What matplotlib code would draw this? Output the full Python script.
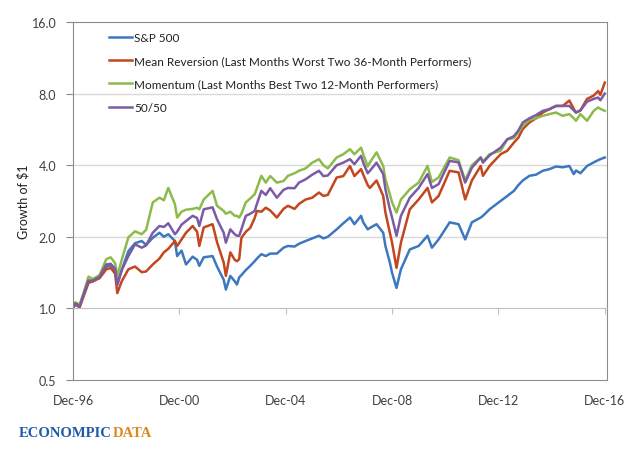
import numpy as np
import pandas as pd
import matplotlib
matplotlib.use("Agg")
import matplotlib.pyplot as plt
from matplotlib.ticker import FixedLocator, NullLocator

plt.rcParams['font.family'] = ['Lato', 'DejaVu Sans']

# months after Dec-96 and growth of $1 for each strategy
months = [0, 1, 3, 5, 7, 9, 12, 15, 17, 19, 20, 22, 25, 28, 31, 33, 36, 39, 41, 43,
          46, 47, 49, 51, 54, 56, 57, 59, 63, 65, 68, 69, 71, 73, 74,
          75, 76, 78, 80, 82, 83, 85, 87, 89, 92, 95, 97, 100, 102, 105, 108, 111, 113, 115,
          119, 122, 125, 127, 130, 131, 133, 134, 137,
          140, 141, 143, 144, 146, 148, 152, 156, 160, 162, 165, 170, 174, 177, 180,
          184, 185, 188, 193, 196, 199, 201, 203, 206, 209, 212, 215, 218, 221, 224, 226, 227, 229,
          232, 235, 237, 238, 240]

sp500 = [1.00, 1.05, 1.02, 1.15, 1.30, 1.30, 1.36, 1.50, 1.52, 1.45, 1.26, 1.45, 1.74, 1.88, 1.92, 1.85, 1.98, 2.08, 2.00, 2.05,
         1.92, 1.66, 1.75, 1.53, 1.65, 1.60, 1.51, 1.64, 1.66, 1.50, 1.32, 1.20, 1.37, 1.30, 1.26,
         1.35, 1.38, 1.45, 1.51, 1.58, 1.62, 1.69, 1.66, 1.70, 1.70, 1.80, 1.83, 1.82, 1.87, 1.92, 1.97, 2.02, 1.97, 2.00,
         2.15, 2.28, 2.41, 2.26, 2.45, 2.30, 2.15, 2.18, 2.26,
         2.08, 1.83, 1.56, 1.41, 1.22, 1.46, 1.77, 1.83, 2.02, 1.80, 1.95, 2.30, 2.26, 1.95, 2.30,
         2.41, 2.45, 2.61, 2.83, 2.97, 3.12, 3.30, 3.45, 3.61, 3.65, 3.79, 3.85, 3.95, 3.92, 3.97, 3.67, 3.80, 3.70,
         3.97, 4.11, 4.20, 4.24, 4.31]

mean_rev = [1.00, 1.04, 1.01, 1.14, 1.28, 1.30, 1.34, 1.46, 1.48, 1.40, 1.16, 1.30, 1.46, 1.50, 1.42, 1.43, 1.53, 1.62, 1.72, 1.78,
            1.92, 1.83, 1.95, 2.08, 2.22, 2.10, 1.83, 2.19, 2.26, 1.90, 1.56, 1.37, 1.72, 1.60, 1.58,
            1.61, 1.98, 2.10, 2.18, 2.40, 2.57, 2.55, 2.65, 2.58, 2.41, 2.62, 2.70, 2.62, 2.75, 2.87, 2.92, 3.07, 2.97, 3.00,
            3.55, 3.60, 3.97, 3.60, 3.85, 3.65, 3.30, 3.21, 3.45,
            2.97, 2.53, 2.08, 1.89, 1.48, 1.89, 2.61, 2.87, 3.21, 2.79, 2.97, 3.79, 3.73, 2.87, 3.45,
            3.97, 3.61, 3.97, 4.45, 4.60, 4.98, 5.22, 5.68, 6.05, 6.30, 6.66, 6.88, 7.10, 7.10, 7.48, 6.90, 6.66, 6.80,
            7.60, 7.85, 8.20, 7.90, 8.90]

momentum = [1.00, 1.06, 1.04, 1.18, 1.36, 1.33, 1.38, 1.61, 1.64, 1.55, 1.37, 1.60, 1.99, 2.11, 2.05, 2.14, 2.79, 2.92, 2.85, 3.21,
            2.74, 2.41, 2.55, 2.60, 2.62, 2.65, 2.61, 2.87, 3.12, 2.70, 2.57, 2.50, 2.55, 2.45, 2.45,
            2.41, 2.50, 2.79, 2.90, 3.02, 3.20, 3.61, 3.38, 3.60, 3.38, 3.43, 3.61, 3.70, 3.79, 3.88, 4.10, 4.24, 4.00, 3.88,
            4.31, 4.45, 4.67, 4.45, 4.74, 4.45, 3.95, 4.11, 4.53,
            3.97, 3.49, 3.02, 2.79, 2.53, 2.87, 3.17, 3.38, 3.97, 3.40, 3.55, 4.31, 4.20, 3.45, 4.00,
            4.31, 4.15, 4.45, 4.60, 5.14, 5.20, 5.50, 5.85, 6.20, 6.30, 6.45, 6.56, 6.66, 6.45, 6.56, 6.30, 6.15, 6.56,
            6.15, 6.77, 7.00, 6.90, 6.77]

fifty = [1.00, 1.05, 1.02, 1.16, 1.31, 1.31, 1.36, 1.53, 1.54, 1.47, 1.26, 1.45, 1.66, 1.86, 1.80, 1.84, 2.08, 2.22, 2.20, 2.28,
         2.05, 2.10, 2.25, 2.33, 2.45, 2.40, 2.22, 2.61, 2.66, 2.37, 2.08, 1.89, 2.15, 2.05, 2.02,
         2.02, 2.15, 2.45, 2.50, 2.57, 2.75, 3.12, 3.00, 3.20, 2.92, 3.15, 3.21, 3.20, 3.38, 3.49, 3.65, 3.79, 3.60, 3.62,
         4.00, 4.10, 4.24, 4.04, 4.38, 4.10, 3.70, 3.79, 4.10,
         3.67, 3.17, 2.61, 2.41, 2.02, 2.45, 2.92, 3.21, 3.67, 3.21, 3.33, 4.17, 4.11, 3.38, 3.90,
         4.31, 4.10, 4.40, 4.74, 5.14, 5.30, 5.60, 6.05, 6.30, 6.50, 6.77, 6.88, 7.10, 7.10, 7.10, 6.80, 6.66, 6.80,
         7.40, 7.60, 7.70, 7.50, 8.00]

series_names = ["S&P 500",
                "Mean Reversion (Last Months Worst Two 36-Month Performers)",
                "Momentum (Last Months Best Two 12-Month Performers)",
                "50/50"]
colors = ["#3D78BE", "#C4461E", "#8DBB4A", "#7B5AA6"]

tick_months = [0, 48, 96, 144, 192, 240]
tick_labels = ["Dec-96", "Dec-00", "Dec-04", "Dec-08", "Dec-12", "Dec-16"]
y_ticks = [0.5, 1.0, 2.0, 4.0, 8.0, 16.0]

fig = plt.figure(figsize=(6.4, 4.52), dpi=100)
ax = fig.add_axes([73 / 640, 1 - 381 / 452, 534 / 640, 358 / 452])

for vals, name, c in zip([sp500, mean_rev, momentum, fifty], series_names, colors):
    ax.plot(months, vals, color=c, lw=1.8, label=name, solid_joinstyle='round')

ax.set_yscale('log', base=2)
ax.set_ylim(0.5, 16)
ax.set_xlim(0, 241)
ax.yaxis.set_major_locator(FixedLocator(y_ticks))
ax.yaxis.set_minor_locator(NullLocator())
ax.set_yticklabels([f"{v:.1f}" for v in y_ticks])
ax.tick_params(axis='y', length=5, color='#8C8C8C', labelsize=9, pad=7, labelcolor='#404040')
for v in [2.0, 4.0, 8.0]:
    ax.axhline(v, color='#DADADA', lw=1, zorder=0)

# category axis crosses at 1.0, labels kept at the bottom
ax.spines['bottom'].set_position(('data', 1.0))
ax.spines['bottom'].set_color('#BFBFBF')
ax.set_xticks(tick_months)
ax.tick_params(axis='x', length=4, color='#BFBFBF', labelbottom=False)
sec = ax.secondary_xaxis(0.0)
sec.set_xticks(tick_months, tick_labels)
sec.tick_params(length=0, pad=10, labelsize=9, labelcolor='#404040')
sec.spines['bottom'].set_color('#8C8C8C')
for s in ['left', 'top', 'right']:
    ax.spines[s].set_color('#8C8C8C')

ax.set_ylabel("Growth of $1", fontsize=9, color='#202020', labelpad=1.5)

ax.legend(loc='upper left', bbox_to_anchor=(0.067, 0.973), frameon=False, fontsize=8.5,
          handlelength=2.0, handletextpad=0.15, labelspacing=1.05, borderpad=0, borderaxespad=0,
          labelcolor='#202020')

# logo
t1 = fig.text(19 / 640, 0.04, "ECONOMPIC", color='#1E5AA8', fontsize=10.5, fontweight='bold',
              family='Liberation Serif', va='center')
fig.canvas.draw()
bb = t1.get_window_extent()
fig.text(bb.x1 / fig.bbox.width + 0.001, 0.04, "DATA", color='#D98A1E', fontsize=10.5,
         fontweight='bold', family='Liberation Serif', va='center')

fig.savefig("out.png", dpi=100)
